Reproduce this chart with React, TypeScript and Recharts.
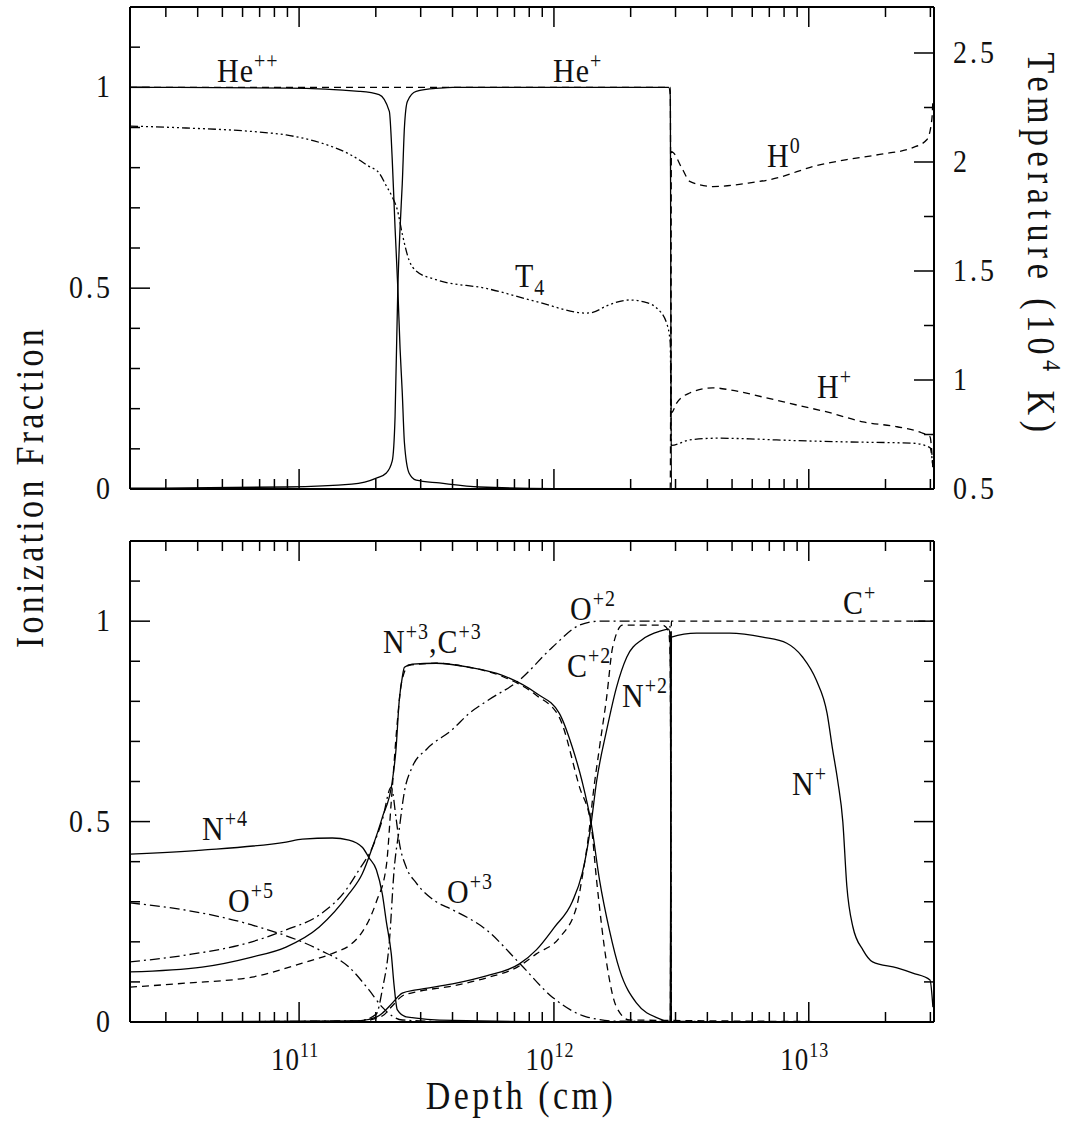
import React from 'react'
import { ComposedChart, Line, XAxis, YAxis } from 'recharts'

type Pt = [number, number]

const FONT = '"Liberation Serif", "DejaVu Serif", serif'
const SY = 1.15

// depth axis (cm), log scale
const DEPTH_DOMAIN = [2.17e10, 3.1e13]
const DEPTH_TICKS = [
  3e10, 4e10, 5e10, 6e10, 7e10, 8e10, 9e10,
  1e11, 2e11, 3e11, 4e11, 5e11, 6e11, 7e11, 8e11, 9e11,
  1e12, 2e12, 3e12, 4e12, 5e12, 6e12, 7e12, 8e12, 9e12,
  1e13, 2e13, 3e13,
]
const FRAC_TICKS = [0, 0.1, 0.2, 0.3, 0.4, 0.5, 0.6, 0.7, 0.8, 0.9, 1, 1.1]
const FRAC_LABELS = [0, 0.5, 1]
const TEMP_TICKS = [0.5, 0.75, 1, 1.25, 1.5, 1.75, 2, 2.25, 2.5]
const TEMP_LABELS = [0.5, 1, 1.5, 2, 2.5]

// ---- top panel: He, H fractions and T4 (right axis) ----
const HE_PP: Pt[] = [
  [2.17e10, 1.0], [8.9e10, 0.998], [1.72e11, 0.99], [2.06e11, 0.982], [2.26e11, 0.94],
  [2.32e11, 0.82], [2.38e11, 0.65], [2.44e11, 0.5], [2.49e11, 0.35], [2.54e11, 0.24],
  [2.59e11, 0.115], [2.7e11, 0.04], [2.88e11, 0.022], [3.55e11, 0.015], [5.1e11, 0.005],
  [1e12, 0.001], [3.1e13, 0],
]
const HE_P: Pt[] = [
  [2.17e10, 0.002], [8.9e10, 0.005], [1.61e11, 0.012], [2.01e11, 0.027], [2.2e11, 0.04],
  [2.32e11, 0.07], [2.38e11, 0.18], [2.44e11, 0.5], [2.49e11, 0.65], [2.54e11, 0.76],
  [2.59e11, 0.9], [2.66e11, 0.965], [2.88e11, 0.99], [3.55e11, 0.998], [4e11, 1.0],
  [2.82e12, 1.0], [2.86e12, 0.98], [2.89e12, 0.0], [3.1e13, 0],
]
const H_P: Pt[] = [
  [2.17e10, 1.0], [2.86e12, 1.0], [2.89e12, 0.19], [3.03e12, 0.214], [3.41e12, 0.239],
  [4.2e12, 0.252], [4.89e12, 0.247], [6.6e12, 0.229], [8.98e12, 0.209], [1.21e13, 0.19],
  [1.63e13, 0.167], [2.22e13, 0.155], [2.77e13, 0.14], [2.99e13, 0.13], [3.07e13, 0.05],
]
const H_0: Pt[] = [
  [2.17e10, 0.0], [2.86e12, 0.0], [2.89e12, 0.84], [3.2e12, 0.795], [3.41e12, 0.766],
  [4.2e12, 0.753], [5.71e12, 0.761], [7.69e12, 0.776], [8.98e12, 0.79], [1.04e13, 0.803],
  [1.41e13, 0.82], [1.9e13, 0.833], [2.56e13, 0.85], [2.91e13, 0.87], [3.04e13, 0.92],
  [3.07e13, 0.97],
]
const T_4: Pt[] = [
  [2.17e10, 2.165], [3.6e10, 2.156], [6.53e10, 2.14], [8.89e10, 2.124], [1.2e11, 2.09],
  [1.61e11, 2.03], [1.88e11, 1.98], [2.06e11, 1.95], [2.2e11, 1.89], [2.32e11, 1.84],
  [2.43e11, 1.78], [2.54e11, 1.67], [2.7e11, 1.55], [2.88e11, 1.5], [3.45e11, 1.46],
  [5.43e11, 1.42], [8.53e11, 1.36], [1.34e12, 1.307], [1.42e12, 1.31], [1.61e12, 1.34],
  [1.98e12, 1.367], [2.31e12, 1.355], [2.53e12, 1.33], [2.77e12, 1.26], [2.86e12, 1.17],
  [2.89e12, 0.7], [3.41e12, 0.725], [4.35e12, 0.733], [5.87e12, 0.73], [7.48e12, 0.725],
  [1.41e13, 0.716], [2.56e13, 0.71], [2.99e13, 0.69], [3.07e13, 0.6],
]

// ---- bottom panel: N, O, C ions ----
const N_4: Pt[] = [
  [2.17e10, 0.419], [4.16e10, 0.429], [8.89e10, 0.449], [1.03e11, 0.456], [1.35e11, 0.459],
  [1.57e11, 0.454], [1.77e11, 0.436], [1.88e11, 0.41], [2.01e11, 0.38], [2.12e11, 0.32],
  [2.2e11, 0.25], [2.3e11, 0.17], [2.36e11, 0.09], [2.43e11, 0.03], [2.63e11, 0.013],
  [4e11, 0.004], [1e12, 0.001], [3.1e13, 0],
]
const O_5: Pt[] = [
  [2.17e10, 0.297], [3.6e10, 0.279], [6.53e10, 0.242], [1.2e11, 0.18], [1.57e11, 0.137],
  [1.88e11, 0.08], [2.12e11, 0.037], [2.32e11, 0.015], [2.54e11, 0.005], [4e11, 0.001],
  [3.1e13, 0],
]
const O_3: Pt[] = [
  [2.17e10, 0.15], [3.6e10, 0.167], [6.53e10, 0.2], [8.89e10, 0.23], [1.2e11, 0.267],
  [1.53e11, 0.33], [1.72e11, 0.38], [1.94e11, 0.436], [2.12e11, 0.504], [2.3e11, 0.586],
  [2.4e11, 0.51], [2.47e11, 0.45], [2.63e11, 0.387], [2.88e11, 0.347], [3.45e11, 0.3],
  [4e11, 0.28], [5.43e11, 0.23], [7.32e11, 0.147], [9.86e11, 0.062], [1.34e12, 0.013],
  [1.8e12, 0.002], [3.1e13, 0],
]
const N_3: Pt[] = [
  [2.17e10, 0.125], [4.16e10, 0.137], [6.53e10, 0.162], [8.89e10, 0.187], [1.2e11, 0.237],
  [1.57e11, 0.32], [1.77e11, 0.37], [1.94e11, 0.436], [2.12e11, 0.51], [2.32e11, 0.6],
  [2.4e11, 0.68], [2.47e11, 0.8], [2.54e11, 0.86], [2.59e11, 0.885], [2.78e11, 0.893],
  [3.45e11, 0.895], [4.65e11, 0.885], [6.28e11, 0.865], [8.53e11, 0.82], [1.05e12, 0.77],
  [1.18e12, 0.686], [1.29e12, 0.6], [1.4e12, 0.496], [1.51e12, 0.354], [1.65e12, 0.23],
  [1.81e12, 0.13], [2.11e12, 0.047], [2.6e12, 0.008], [2.86e12, 0.0], [3.1e13, 0],
]
const C_3: Pt[] = [
  [2.17e10, 0.087], [3.6e10, 0.097], [6.53e10, 0.112], [1.03e11, 0.147], [1.4e11, 0.175],
  [1.57e11, 0.19], [1.77e11, 0.225], [1.88e11, 0.254], [2.01e11, 0.3], [2.2e11, 0.39],
  [2.3e11, 0.55], [2.43e11, 0.75], [2.52e11, 0.845], [2.7e11, 0.89], [3.45e11, 0.895],
  [4.65e11, 0.885], [6.28e11, 0.862], [8.53e11, 0.815], [1.05e12, 0.76], [1.26e12, 0.586],
  [1.4e12, 0.49], [1.47e12, 0.354], [1.61e12, 0.147], [1.76e12, 0.037], [1.98e12, 0.005],
  [3.1e13, 0],
]
const O_2: Pt[] = [
  [2.17e10, 0.0], [1.72e11, 0.003], [2.01e11, 0.02], [2.12e11, 0.08], [2.26e11, 0.2],
  [2.36e11, 0.38], [2.47e11, 0.48], [2.59e11, 0.575], [2.78e11, 0.636], [3.16e11, 0.68],
  [4e11, 0.73], [4.65e11, 0.77], [5.43e11, 0.8], [7.32e11, 0.853], [9.86e11, 0.935],
  [1.26e12, 0.99], [1.51e12, 1.0], [2.82e12, 1.0], [2.86e12, 0.98], [2.89e12, 0.0],
  [3.1e13, 0],
]
const N_2: Pt[] = [
  [2.17e10, 0.0], [1.72e11, 0.003], [2.01e11, 0.012], [2.12e11, 0.022], [2.32e11, 0.047],
  [2.54e11, 0.072], [2.88e11, 0.08], [4e11, 0.095], [5.43e11, 0.115], [7.32e11, 0.145],
  [8.53e11, 0.18], [1e12, 0.235], [1.18e12, 0.3], [1.29e12, 0.37], [1.34e12, 0.42],
  [1.4e12, 0.496], [1.47e12, 0.6], [1.61e12, 0.728], [1.76e12, 0.835], [1.93e12, 0.91],
  [2.23e12, 0.955], [2.6e12, 0.975], [2.82e12, 0.98], [2.86e12, 0.96], [2.89e12, 0.0],
  [3.1e13, 0],
]
const C_2: Pt[] = [
  [2.17e10, 0.0], [1.72e11, 0.002], [2.12e11, 0.015], [2.32e11, 0.04], [2.54e11, 0.065],
  [2.88e11, 0.075], [4e11, 0.09], [5.43e11, 0.11], [7.32e11, 0.14], [8.53e11, 0.17],
  [1.05e12, 0.21], [1.23e12, 0.29], [1.29e12, 0.36], [1.38e12, 0.486], [1.42e12, 0.56],
  [1.51e12, 0.686], [1.61e12, 0.81], [1.7e12, 0.935], [1.86e12, 0.99], [2.67e12, 0.99],
  [2.82e12, 0.975], [2.86e12, 0.9], [2.89e12, 0.0], [3.1e13, 0],
]
const C_1: Pt[] = [[2.17e10, 0], [2.86e12, 0.0], [2.89e12, 1.0], [3.1e13, 1.0]]
const N_1: Pt[] = [
  [2.17e10, 0], [2.86e12, 0], [2.89e12, 0.96], [3.63e12, 0.97], [4.89e12, 0.97],
  [6.6e12, 0.96], [8.2e12, 0.945], [9.47e12, 0.91], [1.07e13, 0.853], [1.18e13, 0.77],
  [1.24e13, 0.68], [1.3e13, 0.6], [1.36e13, 0.5], [1.41e13, 0.34], [1.49e13, 0.237],
  [1.63e13, 0.18], [1.78e13, 0.15], [2.22e13, 0.135], [2.56e13, 0.122], [2.99e13, 0.105],
  [3.07e13, 0.037],
]

const pts = (a: Pt[]) => a.map(([d, v]) => ({ d, v }))

const SOLID = undefined
const DASH = '7 5'
const DASHDOT = '10 4 2 4'
const DASH3DOT = '8 3 2 3 2 3 2 3'

const AXIS = { stroke: '#000', strokeWidth: 2 }

function Txt({ x, y, size, anchor = 'start', rot = 0, ls = 0, children }: any) {
  return (
    <text
      transform={`translate(${x},${y}) rotate(${rot}) scale(1,${SY})`}
      fontFamily={FONT}
      fontSize={size}
      letterSpacing={ls}
      textAnchor={anchor}
      fill="#111"
    >
      {children}
    </text>
  )
}

const isDecade = (v: number) => Math.abs(Math.log10(v) - Math.round(Math.log10(v))) < 1e-6

function DepthTick({ x, y, payload, dir, labels }: any) {
  const v = payload.value
  const major = isDecade(v)
  return (
    <g>
      <line x1={x} x2={x} y1={y} y2={y + dir * (major ? 20 : 10)} stroke="#000" strokeWidth={1.5} />
      {labels && major && (
        <Txt x={x - 4} y={y + 48} size={27} ls={1} anchor="middle">
          10<tspan fontSize={18} dy={-11}>{Math.round(Math.log10(v))}</tspan>
        </Txt>
      )}
    </g>
  )
}

function ValueTick({ x, y, payload, dir, labels, majors }: any) {
  const v = payload.value
  const major = majors.some((m: number) => Math.abs(m - v) < 1e-6)
  return (
    <g>
      <line x1={x} x2={x + dir * (major ? 20 : 10)} y1={y} y2={y} stroke="#000" strokeWidth={1.5} />
      {labels && major && (
        <Txt x={dir > 0 ? x - 17 : x + 19} y={y + 10} size={28} ls={3} anchor={dir > 0 ? 'end' : 'start'}>
          {String(v)}
        </Txt>
      )}
    </g>
  )
}

function depthAxes(labels: boolean) {
  return [
    <XAxis key="xb" xAxisId="b" type="number" dataKey="d" scale="log" domain={DEPTH_DOMAIN}
      allowDataOverflow ticks={DEPTH_TICKS} interval={0} height={1} tickSize={0} tickMargin={0}
      tickLine={false} axisLine={AXIS}
      tick={(p: any) => <DepthTick {...p} dir={-1} labels={labels} />} />,
    <XAxis key="xt" xAxisId="t" orientation="top" type="number" dataKey="d" scale="log"
      domain={DEPTH_DOMAIN} allowDataOverflow ticks={DEPTH_TICKS} interval={0} height={1}
      tickSize={0} tickMargin={0} tickLine={false} axisLine={AXIS}
      tick={(p: any) => <DepthTick {...p} dir={1} labels={false} />} />,
  ]
}

function fracAxis(id: string, side: 'left' | 'right', labels: boolean) {
  return (
    <YAxis key={id} yAxisId={id} orientation={side} type="number" domain={[0, 1.2]} allowDataOverflow
      ticks={FRAC_TICKS} interval={0} width={1} tickSize={0} tickMargin={0} tickLine={false}
      axisLine={AXIS}
      tick={(p: any) => (
        <ValueTick {...p} dir={side === 'left' ? 1 : -1} labels={labels} majors={FRAC_LABELS} />
      )} />
  )
}

function series(data: Pt[], dash: string | undefined, yAxisId = 'l') {
  return (
    <Line data={pts(data)} dataKey="v" xAxisId="b" yAxisId={yAxisId} type="monotone"
      stroke="#000" strokeWidth={1.3} strokeDasharray={dash} dot={false}
      activeDot={false} isAnimationActive={false} />
  )
}

// plot frame: x 130..934; top panel y 7..489, bottom panel y 541..1022 (page pixels)
function TopPanel() {
  return (
    <ComposedChart width={1071} height={525} margin={{ top: 6, right: 136, bottom: 35, left: 129 }}>
      {depthAxes(false)}
      {fracAxis('l', 'left', true)}
      <YAxis yAxisId="T" orientation="right" type="number" domain={[0.5, 2.711]} allowDataOverflow
        ticks={TEMP_TICKS} interval={0} width={1} tickSize={0} tickMargin={0} tickLine={false}
        axisLine={AXIS}
        tick={(p: any) => <ValueTick {...p} dir={-1} labels majors={TEMP_LABELS} />} />
      {series(H_P, DASH)}
      {series(H_0, DASH)}
      {series(T_4, DASH3DOT, 'T')}
      {series(HE_PP, SOLID)}
      {series(HE_P, SOLID)}
    </ComposedChart>
  )
}

function BottomPanel() {
  return (
    <ComposedChart width={1071} height={593} margin={{ top: 10, right: 136, bottom: 100, left: 129 }}>
      {depthAxes(true)}
      {fracAxis('l', 'left', true)}
      {fracAxis('r', 'right', false)}
      {series(O_5, DASHDOT)}
      {series(O_3, DASHDOT)}
      {series(O_2, DASHDOT)}
      {series(C_3, DASH)}
      {series(C_2, DASH)}
      {series(C_1, DASH)}
      {series(N_4, SOLID)}
      {series(N_3, SOLID)}
      {series(N_2, SOLID)}
      {series(N_1, SOLID)}
    </ComposedChart>
  )
}

function Ion({ x, y, base, sup, sub }: any) {
  return (
    <Txt x={x} y={y} size={30} ls={1}>
      {base}
      {sup && <tspan fontSize={20} dy={-12}>{sup}</tspan>}
      {sub && <tspan fontSize={20} dy={7}>{sub}</tspan>}
    </Txt>
  )
}

export default function App() {
  return (
    <div style={{ position: 'absolute', left: 0, top: 0, width: 1071, height: 1123, background: '#fff' }}>
      <div style={{ position: 'absolute', left: 0, top: 530 }}>
        <BottomPanel />
      </div>
      <div style={{ position: 'absolute', left: 0, top: 0 }}>
        <TopPanel />
      </div>
      <svg width={1071} height={1123} style={{ position: 'absolute', left: 0, top: 0, pointerEvents: 'none' }}>
        <Txt x={43} y={487} rot={-90} size={34} ls={3.3} anchor="middle">Ionization Fraction</Txt>
        <Txt x={1028} y={245} rot={90} size={34} ls={5.5} anchor="middle">
          Temperature (10<tspan fontSize={22} dy={-13}>4</tspan><tspan dy={13}> K)</tspan>
        </Txt>
        <Txt x={521} y={1109} size={34} ls={3.5} anchor="middle">Depth (cm)</Txt>

        <Ion x={217} y={82} base="He" sup="++" />
        <Ion x={553} y={82} base="He" sup="+" />
        <Ion x={767} y={167} base="H" sup="0" />
        <Ion x={817} y={398} base="H" sup="+" />
        <Ion x={515} y={287} base="T" sub="4" />

        <Ion x={202} y={840} base="N" sup="+4" />
        <Ion x={228} y={912} base="O" sup="+5" />
        <Txt x={383} y={653} size={30} ls={1}>
          N<tspan fontSize={20} dy={-12}>+3</tspan><tspan dy={12}>,C</tspan>
          <tspan fontSize={20} dy={-12}>+3</tspan>
        </Txt>
        <Ion x={447} y={903} base="O" sup="+3" />
        <Ion x={570} y={620} base="O" sup="+2" />
        <Ion x={567} y={677} base="C" sup="+2" />
        <Ion x={622} y={707} base="N" sup="+2" />
        <Ion x={792} y={795} base="N" sup="+" />
        <Ion x={843} y={614} base="C" sup="+" />
      </svg>
    </div>
  )
}
